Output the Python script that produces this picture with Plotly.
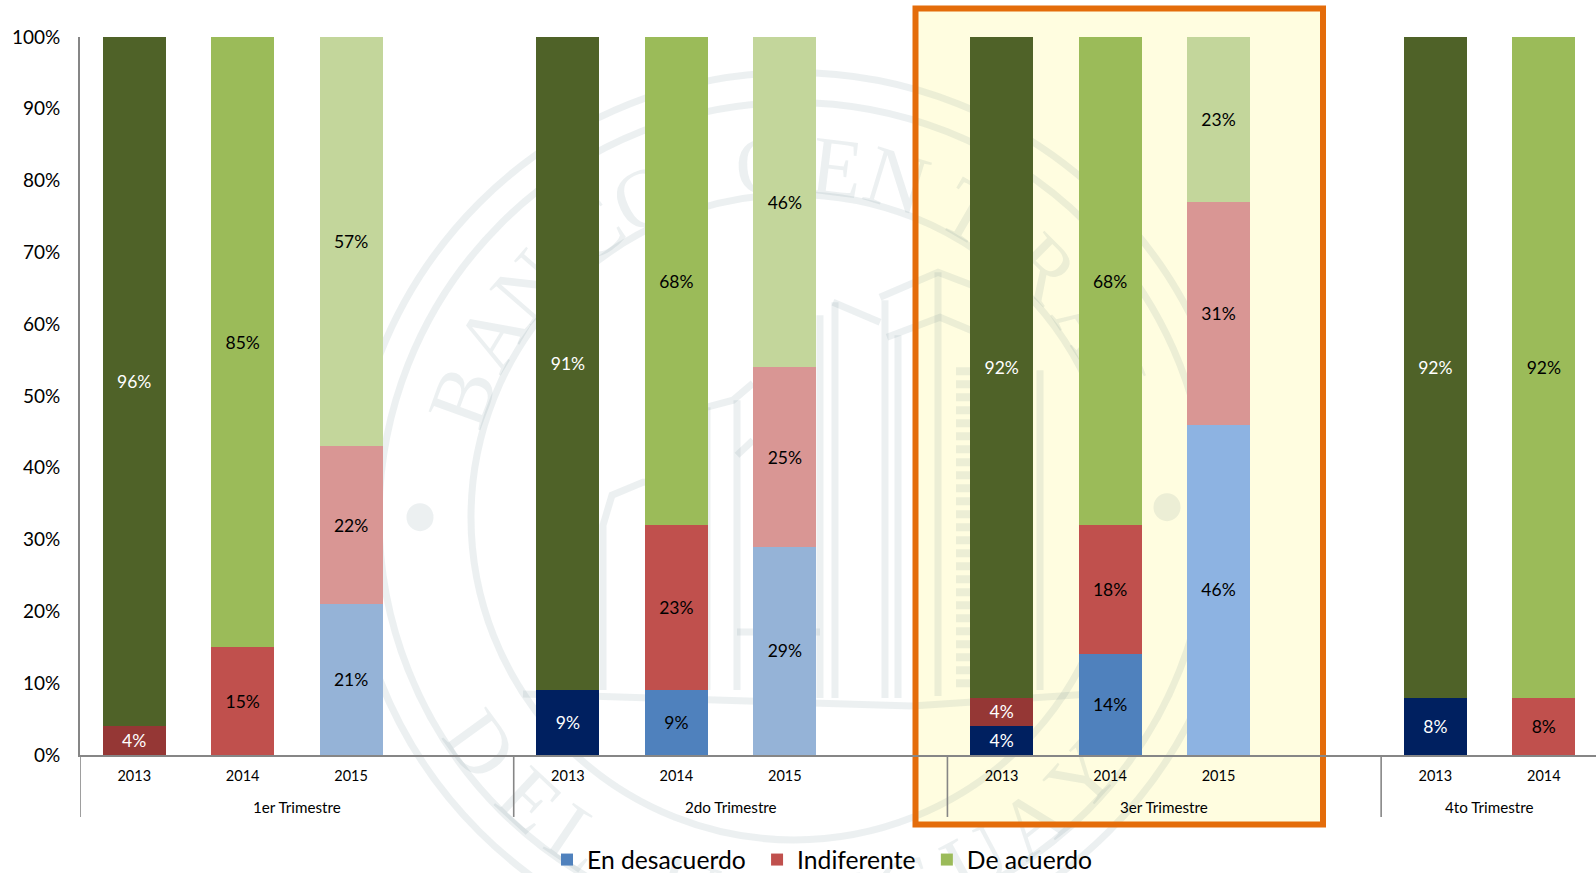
import math
import plotly.graph_objects as go

# ---- data ----
quarters = ["1er Trimestre", "2do Trimestre", "3er Trimestre", "4to Trimestre"]
years = ["2013", "2014", "2015"]
series_names = ["En desacuerdo\u00a0", "Indiferente\u00a0", "De acuerdo"]

en_desacuerdo = {"2013": [None, 9, 4, 8], "2014": [None, 9, 14, None], "2015": [21, 29, 46]}
indiferente = {"2013": [4, None, 4, None], "2014": [15, 23, 18, 8], "2015": [22, 25, 31]}
de_acuerdo = {"2013": [96, 91, 92, 92], "2014": [85, 68, 68, 92], "2015": [57, 46, 23]}

colors_en = {"2013": ["#002060"] * 4, "2014": ["#4F81BD"] * 4, "2015": ["#95B3D7", "#95B3D7", "#8DB3E2"]}
colors_in = {"2013": ["#953735"] * 4, "2014": ["#C0504D"] * 4, "2015": ["#D99694"] * 3}
colors_de = {"2013": ["#4F6228"] * 4, "2014": ["#9BBB59"] * 4, "2015": ["#C3D69B"] * 3}

label_colors = {"2013": "#FFFFFF", "2014": "#000000", "2015": "#000000"}
y_ticks = list(range(0, 101, 10))

# ---- layout geometry ----
# the axis runs off the right edge of the 1596 px page, as in the reference
W, H = 1598, 873
ML, MR, MT, MB = 80, 0, 36.5, 118
PW, PH = W - ML - MR, H - MT - MB
FONT = "Lato, 'Open Sans', sans-serif"
GRID = "#868686"
WM = "rgba(70,110,120,0.10)"


def px(x):
    return (x - ML) / PW


def py(y):
    return (H - MB - y) / PH


# category slots: 4 per quarter, with a blank spacer, last quarter cut after 2014
slots, tick_ids, tick_text, group_start, group_mid = [], [], [], [], []
for q_i, q in enumerate(quarters):
    q_years = years if q_i < 3 else years[:2]
    group_start.append(len(slots) - 0.5)
    for yr in q_years:
        slots.append(f"{q}|{yr}")
        tick_ids.append(f"{q}|{yr}")
        tick_text.append(yr)
    if q_i < 3:
        slots.append(f"{q}|")
    group_mid.append(len(slots) - 0.5 - (2 if q_i < 3 else 1))

fig = go.Figure()
for name, vals, cols in zip(series_names,
                            [en_desacuerdo, indiferente, de_acuerdo],
                            [colors_en, colors_in, colors_de]):
    for yr in years:
        n = len(vals[yr])
        fig.add_trace(go.Bar(
            x=[f"{q}|{yr}" for q in quarters[:n]],
            y=vals[yr],
            name=name,
            legendgroup=name,
            showlegend=(yr == "2014"),
            marker=dict(color=cols[yr], line=dict(width=0)),
            texttemplate="%{y}%",
            textposition="inside",
            insidetextanchor="middle",
            constraintext="none",
            textangle=0,
            textfont=dict(family=FONT, size=17.5, color=label_colors[yr]),
            hoverinfo="skip",
        ))

# ---- background: highlight fill, watermark seal, highlight border ----
shapes = []
BOX = (915.5, 8, 1323, 824.5)
shapes.append(dict(type="rect", xref="paper", yref="paper", layer="below",
                   x0=px(BOX[0]), x1=px(BOX[2]), y0=py(BOX[3]), y1=py(BOX[1]),
                   fillcolor="#FFFDE0", line=dict(width=0)))

CX, CY = 794, 517


def ring(r, width=7):
    shapes.append(dict(type="circle", xref="paper", yref="paper", layer="below",
                       x0=px(CX - r), x1=px(CX + r), y0=py(CY + r), y1=py(CY - r),
                       line=dict(color=WM, width=width), fillcolor="rgba(0,0,0,0)"))


ring(445)
ring(415)
ring(323)


def poly(points, width=7, dash=None):
    d = "M" + " L".join(f"{px(x):.5f},{py(y):.5f}" for x, y in points)
    line = dict(color=WM, width=width)
    if dash:
        line["dash"] = dash
    shapes.append(dict(type="path", xref="paper", yref="paper", layer="below",
                       path=d, line=line, fillcolor="rgba(0,0,0,0)"))


# building drawn in the seal
poly([(880, 297), (938, 272), (993, 293)])
poly([(887, 337), (940, 317), (990, 338)])
poly([(833, 302), (880, 322)])
poly([(938, 272), (938, 696)])
poly([(885, 300), (885, 698)])
poly([(835, 302), (835, 698)])
poly([(820, 315), (820, 698)])
poly([(898, 335), (898, 698)])
poly([(707, 407), (733, 400), (753, 383)])
poly([(737, 400), (737, 690)])
poly([(737, 455), (753, 440)])
poly([(603, 690), (603, 525), (612, 495), (643, 482), (690, 482), (690, 690)])
poly([(707, 407), (707, 690)])
poly([(737, 632), (820, 632)])
poly([(523, 694), (912, 706), (1090, 694)])
poly([(963, 367), (963, 690)], width=14, dash="8px,5px")
poly([(1040, 370), (1040, 690)])
poly([(1000, 340), (1000, 690)])
# dots on either side of the seal
for dx, dy in ((420, 517), (1167, 507)):
    shapes.append(dict(type="circle", xref="paper", yref="paper", layer="below",
                       x0=px(dx - 13.5), x1=px(dx + 13.5), y0=py(dy + 14), y1=py(dy - 14),
                       fillcolor=WM, line=dict(width=0)))

# seal lettering: real text placed round the ring
top_letters = list(zip("BANCOCENTRAL", [-70, -59, -49, -35, -25, -5, 7, 17, 30, 45, 57, 68]))
bottom_letters = list(zip("DELURUGUAY", [-54, -43, -34, -16, -5, 6, 17, 28, 38, 48]))
RT, RB = 362, 378


def letter(ch, x, y, angle):
    shapes.append(dict(type="rect", xref="paper", yref="paper", layer="below",
                       x0=px(x - 2), x1=px(x + 2), y0=py(y + 2), y1=py(y - 2),
                       fillcolor="rgba(0,0,0,0)", line=dict(width=0),
                       label=dict(text=ch, textposition="middle center", textangle=angle,
                                  font=dict(family="'Liberation Serif', serif", size=84, color=WM))))


for ch, a in top_letters:
    t = math.radians(a)
    letter(ch, CX + RT * math.sin(t), CY - RT * math.cos(t), a)
for ch, a in bottom_letters:
    t = math.radians(a)
    letter(ch, CX + RB * math.sin(t), CY + RB * math.cos(t), -a)

shapes.append(dict(type="rect", xref="paper", yref="paper", layer="below",
                   x0=px(BOX[0]), x1=px(BOX[2]), y0=py(BOX[3]), y1=py(BOX[1]),
                   fillcolor="rgba(0,0,0,0)", line=dict(color="#E46C0A", width=6)))

# quarter dividers below the axis, down to the second label row
for start in group_start:
    shapes.append(dict(type="line", xref="x", yref="paper", layer="below",
                       x0=start, x1=start, y0=py(817), y1=0,
                       line=dict(color=GRID, width=1.6)))

annotations = [
    dict(text=q, x=m, xref="x", y=py(807), yref="paper", showarrow=False,
         xanchor="center", yanchor="middle",
         font=dict(family=FONT, size=15.2, color="#000000"))
    for q, m in zip(quarters, group_mid)
]

fig.update_layout(
    width=W, height=H,
    margin=dict(l=ML, r=MR, t=MT, b=MB, pad=0, autoexpand=False),
    barmode="stack",
    bargap=0.42,
    paper_bgcolor="#FFFFFF",
    plot_bgcolor="rgba(0,0,0,0)",
    font=dict(family=FONT, color="#000000"),
    showlegend=True,
    legend=dict(orientation="h", x=822 / W, xanchor="center", xref="container",
                y=(H - 860) / H, yanchor="middle", yref="container", traceorder="normal",
                font=dict(family=FONT, size=24.7, color="#000000"),
                bgcolor="rgba(0,0,0,0)", itemclick=False, itemdoubleclick=False),
    shapes=shapes,
    annotations=annotations,
    xaxis=dict(type="category", categoryorder="array", categoryarray=slots,
               range=[-0.5, len(slots) - 0.5], tickmode="array", tickvals=tick_ids, ticktext=tick_text,
               showline=True, linecolor=GRID, linewidth=2, showgrid=False, zeroline=False,
               ticks="outside", ticklen=7, tickcolor="rgba(0,0,0,0)", tickangle=0,
               tickfont=dict(family=FONT, size=14.5, color="#000000")),
    yaxis=dict(range=[0, 100], tickvals=y_ticks, ticktext=[f"{v}%" for v in y_ticks],
               showline=True, linecolor=GRID, linewidth=2, showgrid=False, zeroline=False,
               ticks="outside", ticklen=14, tickcolor="rgba(0,0,0,0)",
               tickfont=dict(family=FONT, size=19, color="#000000")),
)

fig.write_html("out.html", config={"displayModeBar": False},
               post_script="document.body.style.margin='0';document.body.style.overflow='hidden';")
